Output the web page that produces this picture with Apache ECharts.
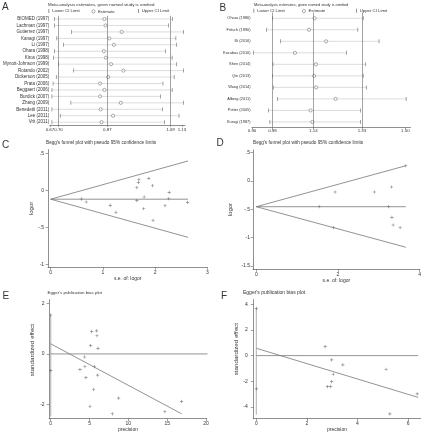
<!DOCTYPE html>
<html>
<head>
<meta charset="utf-8">
<script src="https://cdn.jsdelivr.net/npm/echarts@6/dist/echarts.min.js"></script>
<style>
  html, body { margin: 0; padding: 0; background: #fff; }
  #main { width: 428px; height: 433px; }
</style>
</head>
<body>
<div id="main"></div>
<script>
// ---- panel A: leave-one-out estimates, 17 studies
const studiesA = ['BIOMED (1997)', 'Lachman (1997)', 'Gutierrez (1997)', 'Kanagi (1997)', 'Li (1997)',
  'Ohara (1998)', 'Kiros (1998)', 'Mynott-Johnson (1999)', 'Rotando (2002)', 'Dickerson (2005)',
  'Prata (2006)', 'Beggaert (2006)', 'Burdick (2007)', 'Zhang (2009)', 'Benedetti (2011)', 'Lee (2011)', 'Vrit (2011)'];
const lowerA = [0.686, 0.686, 0.745, 0.694, 0.717, 0.686, 0.683, 0.700, 0.753, 0.692, 0.681, 0.677, 0.677, 0.743, 0.677, 0.706, 0.677];
const estA   = [0.860, 0.864, 0.920, 0.877, 0.893, 0.858, 0.865, 0.883, 0.926, 0.873, 0.845, 0.860, 0.845, 0.917, 0.847, 0.890, 0.850];
const upperA = [1.097, 1.084, 1.135, 1.109, 1.112, 1.073, 1.096, 1.112, 1.135, 1.103, 1.064, 1.096, 1.056, 1.135, 1.062, 1.120, 1.070];
const ticksA = [0.67, 0.70, 0.87, 1.09, 1.13];
const refA = [0.70, 0.87, 1.09];

// ---- panel B: leave-one-out estimates, 10 studies
const studiesB = ['Ohara (1986)', 'Fritsch (1990)', 'Illi (2010)', 'Kocabas (2010)', 'Shen (2014)',
  'Qin (2013)', 'Wang (2014)', 'Alberg (2011)', 'Potter (2005)', 'Kurugi (1987)'];
const lowerB = [0.980, 0.957, 1.012, 0.905, 0.982, 0.980, 0.983, 0.999, 0.964, 0.970];
const estB   = [1.145, 1.123, 1.190, 1.068, 1.150, 1.143, 1.151, 1.227, 1.129, 1.136];
const upperB = [1.335, 1.314, 1.397, 1.270, 1.345, 1.335, 1.347, 1.503, 1.325, 1.325];
const ticksB = [0.90, 0.98, 1.14, 1.33, 1.50];
const refB = [0.98, 1.14, 1.33];

// ---- panel C: Begg's funnel (s.e. of logor, logor)
const seC    = [0.59, 0.68, 1.14, 1.25, 1.65, 1.68, 1.69, 1.65, 1.79, 1.78, 1.88, 1.95, 1.96, 2.19, 2.27, 2.26, 2.62];
const logorC = [-0.118, -0.158, -0.203, -0.297, 0.035, 0.108, 0.149, -0.14, -0.09, -0.249, 0.162, 0.062, -0.405, -0.208, -0.027, -0.114, -0.162];
const funnelC = { apex: [0, -0.12], upper: [2.63, 0.396], mid: [2.63, -0.12], lower: [2.63, -0.635] };

// ---- panel D: Begg's funnel
const seD    = [1.54, 1.93, 1.89, 2.89, 3.24, 3.31, 3.32, 3.35, 3.52, 3.66];
const logorD = [-0.454, -0.194, -0.825, -0.194, -0.454, -0.106, -0.642, -0.777, -0.825, 0.27];
const funnelD = { apex: [0, -0.454], upper: [3.66, 0.27], mid: [3.66, -0.454], lower: [3.66, -1.17] };

// ---- panel E: Egger's plot (precision, standardized effect)
const precE = [5.28, 5.92, 5.96, 5.15, 6.09, 4.37, 3.77, 4.41, 5.62, 4.54, 6.05, 5.53, 8.75, 5.06, 7.93, 14.71, 16.86];
const effE  = [0.88, 0.91, 0.72, 0.33, 0.22, -0.12, -0.62, -0.50, -0.50, -0.94, -0.84, -1.40, -1.75, -2.08, -2.37, -2.28, -1.88];
const ciE   = [[0, 1.54], [0, -2.48]];
const ciPtsE = [[0, 1.54], [0, -0.66]];
const fitE  = [[0, 0.40], [16.86, -2.37]];
const zeroE = [[0, 0], [20.2, 0]];

// ---- panel F: Egger's plot
const precF = [2.72, 2.98, 3.42, 3.04, 2.98, 2.81, 2.94, 5.13, 6.36, 5.28];
const effF  = [0.70, -0.33, -0.72, -1.45, -2.02, -2.41, -2.41, -1.06, -2.98, -4.53];
const ciF   = [[0, 3.68], [0, -4.6]];
const ciPtsF = [[0, 3.68], [0, -2.59]];
const fitF  = [[0, 0.57], [6.4, -3.25]];
const zeroF = [[0, 0], [6.4, 0]];

const FONT = 'Liberation Sans, Arial, sans-serif';
const TXT = '#333';
const AX = '#444';
const PLUS = 'path://M4,0H6V4H10V6H6V10H4V6H0V4H4Z';

const chart = echarts.init(document.getElementById('main'));

function stataNum(v) {
  return String(+v.toFixed(2)).replace(/^(-?)0\./, '$1.');
}

function txt(text, left, top, size) {
  return { text: text, left: left, top: top, padding: 0,
    textStyle: { fontSize: size, fontWeight: 'normal', color: TXT, fontFamily: FONT } };
}

function forestX(idx, min, max, ticks, margin) {
  return {
    gridIndex: idx, type: 'value', min: min, max: max,
    splitLine: { show: false },
    axisLine: { show: true, onZero: false, lineStyle: { color: AX, width: 0.6 } },
    axisTick: { show: true, length: 1.5, customValues: ticks, lineStyle: { color: AX, width: 0.5 } },
    axisLabel: { customValues: ticks, fontSize: 4.4, color: TXT, fontFamily: FONT, margin: margin,
      formatter: v => v.toFixed(2) }
  };
}

function forestY(idx, names, size, margin) {
  return {
    gridIndex: idx, type: 'category', data: names, inverse: true,
    axisLine: { show: false }, axisTick: { show: false }, splitLine: { show: false },
    axisLabel: { interval: 0, fontSize: size, color: TXT, fontFamily: FONT, margin: margin }
  };
}

function plotAxis(idx, dim, min, max, ticks, opts) {
  return Object.assign({
    gridIndex: idx, type: 'value', min: min, max: max,
    splitLine: { show: false },
    axisLine: { show: true, onZero: false, lineStyle: { color: AX, width: 0.6 } },
    axisTick: { show: true, length: 2.5, customValues: ticks, lineStyle: { color: AX, width: 0.5 } },
    axisLabel: { customValues: ticks, fontSize: 5, color: TXT, fontFamily: FONT, margin: opts.margin,
      formatter: stataNum },
    nameLocation: 'middle', nameGap: opts.gap,
    nameTextStyle: { fontSize: opts.nameSize, color: TXT, fontFamily: FONT, padding: opts.pad || 0 }
  }, { name: opts.name });
}

function rowLines(idx, lower, upper) {
  return {
    type: 'custom', xAxisIndex: idx, yAxisIndex: idx, silent: true, z: 1,
    data: lower.map((l, i) => [l, upper[i], i]),
    encode: { x: [0, 1], y: 2 },
    renderItem: (params, api) => {
      const a = api.coord([api.value(0), api.value(2)]);
      const b = api.coord([api.value(1), api.value(2)]);
      return { type: 'line', shape: { x1: a[0], y1: a[1], x2: b[0], y2: b[1] },
        style: { stroke: '#c4c4c4', lineWidth: 0.6 } };
    }
  };
}

function forestSeries(idx, lower, est, upper, refs) {
  return [
    rowLines(idx, lower, upper),
    { name: 'Lower CI Limit', type: 'scatter', xAxisIndex: idx, yAxisIndex: idx, symbol: 'rect',
      symbolSize: [0.6, 4], itemStyle: { color: '#444' }, data: lower.map((v, i) => [v, i]) },
    { name: 'Upper CI Limit', type: 'scatter', xAxisIndex: idx, yAxisIndex: idx, symbol: 'rect',
      symbolSize: [0.6, 4], itemStyle: { color: '#444' }, data: upper.map((v, i) => [v, i]) },
    { name: 'Estimate', type: 'scatter', xAxisIndex: idx, yAxisIndex: idx, symbol: 'circle', z: 3,
      symbolSize: 3.2, itemStyle: { color: '#fff', borderColor: '#555', borderWidth: 0.6 },
      data: est.map((v, i) => [v, i]),
      markLine: { silent: true, symbol: ['none', 'none'], label: { show: false },
        lineStyle: { color: '#666', width: 0.6, type: 'solid' },
        data: refs.map(v => ({ xAxis: v })) } }
  ];
}

function lineS(idx, data, color, width) {
  return { type: 'line', xAxisIndex: idx, yAxisIndex: idx, data: data, symbol: 'none', silent: true,
    lineStyle: { color: color, width: width } };
}

function pts(idx, xs, ys) {
  return { type: 'scatter', xAxisIndex: idx, yAxisIndex: idx, symbol: PLUS, symbolSize: 3.2, z: 4,
    itemStyle: { color: '#666' }, data: xs.map((x, i) => [x, ys[i]]) };
}

function legendOne(name, left, top, bar) {
  const lg = { data: [name], left: left, top: top, padding: 0, itemGap: 0,
    itemWidth: bar ? 0.7 : 3.2, itemHeight: bar ? 4 : 3.2, selectedMode: false,
    textStyle: { fontSize: 4.3, color: TXT, fontFamily: FONT, padding: [0, 0, 0, -2] } };
  if (!bar) {
    lg.data = [{ name: name, icon: 'circle',
      itemStyle: { color: '#fff', borderColor: '#555', borderWidth: 0.6 } }];
  }
  return lg;
}

const option = {
  animation: false,
  backgroundColor: '#fff',
  title: [
    txt('A', 2, 2.5, 10), txt('B', 219.5, 3.5, 10), txt('C', 2, 140, 10),
    txt('D', 216.5, 138.5, 10), txt('E', 2.5, 291.5, 10), txt('F', 221, 291.5, 10),
    txt('Meta-analysis estimates, given named study is omitted', 48, 2.4, 4.4),
    txt('Meta-analysis estimates, given named study is omitted', 254, 2.8, 3.9),
    txt("Begg's funnel plot with pseudo 95% confidence limits", 46, 140.5, 4.7),
    txt("Begg's funnel plot with pseudo 95% confidence limits", 253, 140.5, 4.7),
    txt("Egger's publication bias plot", 47.5, 290.8, 4.4),
    txt("Egger's publication bias plot", 243, 290.5, 5)
  ],
  legend: [
    legendOne('Lower CI Limit', 48.5, 9, true), legendOne('Estimate', 91.5, 9.4, false),
    legendOne('Upper CI Limit', 138, 9, true),
    legendOne('Lower CI Limit', 253.5, 8.7, true), legendOne('Estimate', 302, 9.1, false),
    legendOne('Upper CI Limit', 356, 8.7, true)
  ],
  grid: [
    { left: 46, top: 15.8, width: 139, height: 109.6 },
    { left: 252, top: 12.5, width: 158.5, height: 115.2 },
    { left: 48.1, top: 149.6, width: 159.2, height: 117.7 },
    { left: 253, top: 149.9, width: 166.7, height: 119.4 },
    { left: 49.15, top: 299.6, width: 157.6, height: 119.2 },
    { left: 253.3, top: 299.7, width: 167.4, height: 119 }
  ],
  xAxis: [
    forestX(0, 0.6695, 1.1408, ticksA, 2),
    forestX(1, 0.90, 1.52, ticksB, 1.5),
    plotAxis(2, 'x', -0.05, 3.0, [0, 1, 2, 3], { margin: 2.5, name: 's.e. of: logor', gap: 9, nameSize: 5 }),
    plotAxis(3, 'x', -0.08, 4.0, [0, 2, 4], { margin: 2.5, name: 's.e. of: logor', gap: 9, nameSize: 5 }),
    plotAxis(4, 'x', -0.2, 20.1, [0, 5, 10, 15, 20], { margin: 2.5, name: 'precision', gap: 7.8, nameSize: 5 }),
    plotAxis(5, 'x', -0.12, 6.5, [0, 2, 4, 6], { margin: 2.5, name: 'precision', gap: 7.8, nameSize: 5 })
  ],
  yAxis: [
    forestY(0, studiesA, 4.5, 0.5),
    forestY(1, studiesB, 3.9, 1.5),
    plotAxis(2, 'y', -1.04, 0.55, [-1, -0.5, 0, 0.5], { margin: 4, name: 'logor', gap: 12, nameSize: 6 }),
    plotAxis(3, 'y', -1.56, 0.55, [-1.5, -1, -0.5, 0, 0.5], { margin: 3, name: 'logor', gap: 20, nameSize: 6 }),
    plotAxis(4, 'y', -2.56, 2.15, [-2, 0, 2], { margin: 4.5, name: 'standardized effect', gap: 13.5, nameSize: 6.2, pad: [0, 0, 0, 18] }),
    plotAxis(5, 'y', -4.9, 4.35, [-4, -2, 0, 2, 4], { margin: 5.5, name: 'standardized effect', gap: 10.7, nameSize: 6.2, pad: [0, 0, 0, 20] })
  ],
  series: [].concat(
    forestSeries(0, lowerA, estA, upperA, refA),
    forestSeries(1, lowerB, estB, upperB, refB),
    [
      lineS(2, [funnelC.apex, funnelC.upper], '#777', 0.8),
      lineS(2, [funnelC.apex, funnelC.mid], '#777', 0.8),
      lineS(2, [funnelC.apex, funnelC.lower], '#777', 0.8),
      pts(2, seC, logorC),
      lineS(3, [funnelD.apex, funnelD.upper], '#777', 0.8),
      lineS(3, [funnelD.apex, funnelD.mid], '#777', 0.8),
      lineS(3, [funnelD.apex, funnelD.lower], '#777', 0.8),
      pts(3, seD, logorD),
      lineS(4, ciE, '#bbb', 1.2),
      lineS(4, zeroE, '#777', 0.8),
      lineS(4, fitE, '#777', 0.8),
      pts(4, precE, effE),
      pts(4, ciPtsE.map(p => p[0]), ciPtsE.map(p => p[1])),
      lineS(5, ciF, '#bbb', 1.2),
      lineS(5, zeroF, '#777', 0.8),
      lineS(5, fitF, '#777', 0.8),
      pts(5, precF, effF),
      pts(5, ciPtsF.map(p => p[0]), ciPtsF.map(p => p[1]))
    ]
  )
};

chart.setOption(option);
</script>
</body>
</html>
